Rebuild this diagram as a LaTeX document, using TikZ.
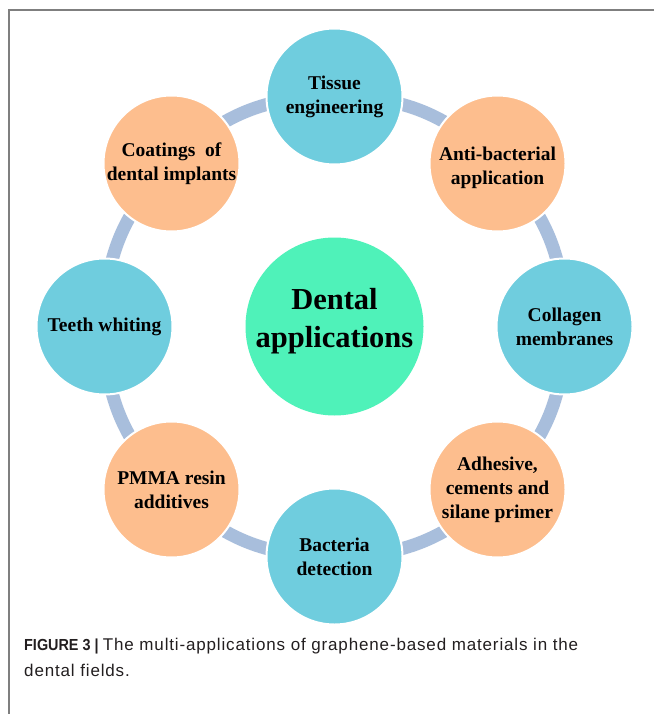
\documentclass[tikz,border=0pt]{standalone}
\usepackage{fontspec}
\setmainfont{Liberation Serif}
\newfontfamily\capfont[LetterSpace=5]{Liberation Sans}
\newfontfamily\capbold[FakeStretch=0.9]{Liberation Sans Bold}
\usetikzlibrary{backgrounds}
\definecolor{teal}{HTML}{6FCDDE}
\definecolor{peach}{HTML}{FDBE8E}
\definecolor{mint}{HTML}{4FF2B9}
\definecolor{ringc}{HTML}{A8BEDC}
\definecolor{framec}{HTML}{7F7F7F}
\definecolor{capc}{HTML}{231F20}
\tikzset{
  outerfont/.style={font=\fontsize{19.5}{24}\selectfont\bfseries, align=center, text=black},
  outer/.style={circle, minimum size=136pt, inner sep=0pt, draw=white, line width=2pt, outerfont},
  tealc/.style={outer, fill=teal},
  peachc/.style={outer, fill=peach},
  hub/.style={circle, minimum size=178pt, inner sep=0pt, fill=mint},
  hubfont/.style={font=\fontsize{30.5}{38}\selectfont\bfseries, align=center, inner sep=0pt},
  ringlink/.style={draw=ringc, line width=13pt},
  frameline/.style={draw=framec, line width=1.4pt}
}
\begin{document}
\begin{tikzpicture}[x=1pt,y=-1pt]
\useasboundingbox (0,0) rectangle (654,714);
\begin{scope}[on background layer]
\fill[white] (0,0) rectangle (654,714);
\end{scope}
\coordinate (ftl) at (9,10);
\coordinate (ftr) at (654,10);
\coordinate (fbl) at (9,714);
\draw[frameline] (ftr) -- (ftl) -- (fbl);

\node[hub] (hub) at (334.5,326.5) {};
\node[hubfont] (hubtext) at (334.5,321) {Dental\\applications};
\node[tealc]  (n1) at (334.5,96.5)  {Tissue\\engineering};
\node[peachc] (n2) at (497.5,163.5) {};
\node[outerfont, inner sep=0pt] (n2text) at (497.5,168) {Anti-bacterial\\application};
\node[tealc]  (n3) at (564.5,326.5) {Collagen\\membranes};
\node[peachc] (n4) at (497.5,489.5) {Adhesive,\\cements and\\silane primer};
\node[tealc]  (n5) at (334.5,556.5) {Bacteria\\detection};
\node[peachc] (n6) at (171.5,489.5) {PMMA resin\\additives};
\node[tealc]  (n7) at (104.5,326.5) {Teeth whiting};
\node[peachc] (n8) at (171.5,163.5) {Coatings\ \ of\\dental implants};

\begin{scope}[on background layer]
\foreach \a/\b in {n1/n2,n2/n3,n3/n4,n4/n5,n5/n6,n6/n7,n7/n8,n8/n1}
  \draw[ringlink] (\a.center) to[bend left=22.5] (\b.center);
\end{scope}

\node[anchor=base west, inner sep=0pt, text=capc, align=left, font=\fontsize{17}{26}\selectfont] (cap) at (24,676)
  {{\capbold\fontsize{16}{26}\selectfont FIGURE 3 |} {\capfont The multi-applications of graphene-based materials in the}\\{\capfont dental fields.}};
\end{tikzpicture}
\end{document}
